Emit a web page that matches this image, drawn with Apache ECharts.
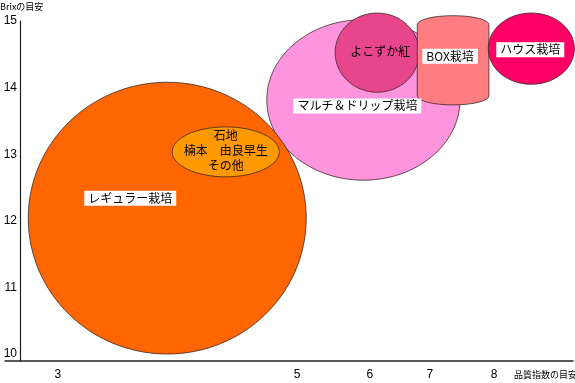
<!DOCTYPE html>
<html><head><meta charset="utf-8">
<script src="https://cdn.jsdelivr.net/npm/echarts@6/dist/echarts.min.js"></script>
<style>html,body{margin:0;padding:0;background:#fff}#c{width:575px;height:383px}</style>
</head><body><div id="c"></div>
<script>
// --- data (x in display units of the quality index axis, y = Brix) ---
const groups = ['マルチ＆ドリップ栽培', 'よこずか紅', 'BOX栽培', 'ハウス栽培', 'レギュラー栽培', '石地\n楠本　由良早生\nその他'];
const qualityLow  = [4.54, 5.58, 6.83, 7.91, 0.91, 3.10];
const qualityHigh = [7.48, 6.86, 7.92, 9.22, 5.14, 4.73];
const brixLow     = [12.61, 13.93, 13.74, 14.05, 10.00, 12.66];
const brixHigh    = [15.02, 15.12, 15.08, 15.12, 14.08, 13.41];
const xTickLabels = ['3', '5', '6', '7', '8'];
const xTickAt     = [1.36, 5, 6.11, 7.02, 8];
const yTicks      = [10, 11, 12, 13, 14, 15];

// --- styles ---
const colors = ['#FF94DE', '#E8468B', '#FF7C80', '#FF0066', '#FF6600', '#FF9900'];
const kinds = ['ellipse', 'ellipse', 'cylinder', 'ellipse', 'ellipse', 'ellipse'];
const boxed = [true, false, true, true, true, false];
const labelOffset = [[-6, 6], [3, -1], [-3, -4], [-1, 1], [-37, -20], [0, -1]];

const data = groups.map((g, i) => [qualityLow[i], qualityHigh[i], brixLow[i], brixHigh[i]]);
const FONT_CJK = '"Noto Sans CJK JP", "Liberation Sans", sans-serif';

const chart = echarts.init(document.getElementById('c'), null, {renderer: 'canvas'});
chart.setOption({
  animation: false,
  backgroundColor: '#fff',
  grid: {left: 5, right: 2, top: 21, bottom: 22, containLabel: false},
  xAxis: {
    type: 'value', min: 0.556, max: 9.2,
    splitLine: {show: false},
    axisLine: {show: true, onZero: false, lineStyle: {color: '#222', width: 1.5}},
    axisTick: {show: false},
    axisLabel: {
      customValues: xTickAt,
      formatter: v => { let k = 0, d = 1e9; xTickAt.forEach((t, j) => { if (Math.abs(t - v) < d) { d = Math.abs(t - v); k = j; } }); return xTickLabels[k]; },
      color: '#000', fontSize: 12, fontFamily: '"Liberation Sans", Arial', margin: 8
    }
  },
  yAxis: {
    type: 'value', min: 9.895, max: 15, offset: -15,
    splitLine: {show: false},
    axisLine: {show: true, onZero: false, lineStyle: {color: '#222', width: 1.2}},
    axisTick: {show: false},
    axisLabel: {customValues: yTicks, color: '#000', fontSize: 12, fontFamily: '"Liberation Sans", Arial', margin: 3}
  },
  graphic: [
    {type: 'text', left: 0, top: 2, style: {text: 'Brixの目安', font: '9px ' + FONT_CJK, fill: '#000'}},
    {type: 'text', left: 514, top: 370, style: {text: '品質指数の目安', font: '9px ' + FONT_CJK, fill: '#000'}}
  ],
  series: [{
    type: 'custom',
    clip: false,
    encode: {x: [0, 1], y: [2, 3]},
    data: data,
    renderItem: (params, api) => {
      const i = params.dataIndex;
      const p1 = api.coord([api.value(0), api.value(3)]);
      const p2 = api.coord([api.value(1), api.value(2)]);
      const cx = (p1[0] + p2[0]) / 2, cy = (p1[1] + p2[1]) / 2;
      const rx = (p2[0] - p1[0]) / 2, ry = (p2[1] - p1[1]) / 2;
      const stroke = {fill: colors[i], stroke: '#3a2a2a', lineWidth: 0.8};
      let shapeEl;
      if (kinds[i] === 'cylinder') {
        const cap = ry * 0.2;
        const top = p1[1] + cap, bot = p2[1] - cap;
        const pd = `M${p1[0]},${top} A${rx},${cap} 0 0 1 ${p2[0]},${top} L${p2[0]},${bot} A${rx},${cap} 0 0 1 ${p1[0]},${bot} Z`;
        shapeEl = {type: 'path', shape: {pathData: pd, x: p1[0], y: p1[1], width: p2[0] - p1[0], height: p2[1] - p1[1], layout: 'cover'}, style: stroke};
      } else {
        shapeEl = {type: 'ellipse', shape: {cx, cy, rx, ry}, style: stroke};
      }
      const txt = {
        type: 'text', z2: 10,
        style: {
          text: groups[i], x: cx + labelOffset[i][0], y: cy + labelOffset[i][1],
          align: 'center', verticalAlign: 'middle',
          font: '12px ' + FONT_CJK, fill: '#000', lineHeight: 15,
          backgroundColor: boxed[i] ? '#fff' : null, padding: boxed[i] ? [0, 4] : 0
        }
      };
      return {type: 'group', children: [shapeEl, txt]};
    }
  }]
});
</script></body></html>
